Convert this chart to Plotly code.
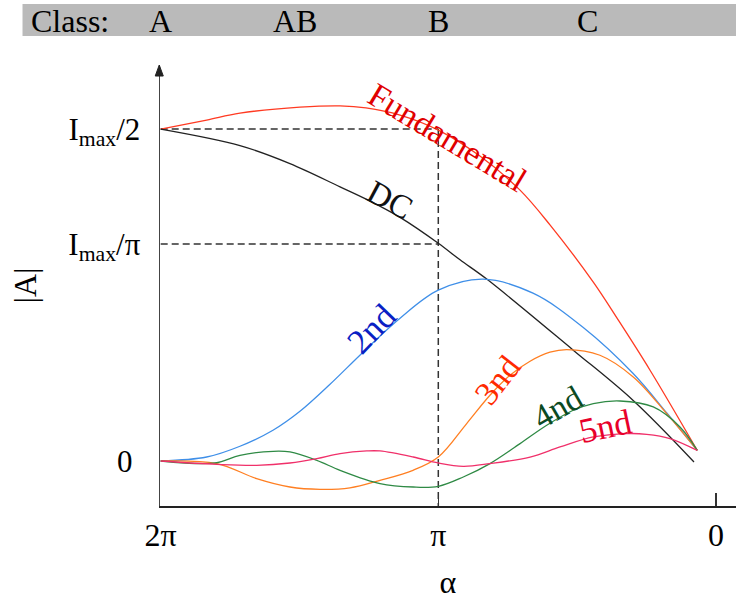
import plotly.graph_objects as go

# x: conduction angle alpha in degrees (2*pi = 360, pi = 180, 0 = 0); y: amplitude as fraction of Imax
alpha_fund = [360, 330.2, 308.6, 269.7, 243.7, 226.9, 204.8, 180, 153, 127, 107.6, 79.5, 64.1, 42.7, 12.1]
fund = [0.500, 0.5136, 0.524, 0.533, 0.535, 0.532, 0.5211, 0.4985, 0.4593, 0.408, 0.3557, 0.2694, 0.2151, 0.1367, 0.016]

alpha_dc = [360, 308.6, 276.2, 243.7, 226.4, 204.8, 180, 165.9, 148.6, 92.5, 53.8, 14.2]
dc = [0.500, 0.4751, 0.448, 0.413, 0.394, 0.367, 0.328, 0.303, 0.274, 0.167, 0.0915, -0.0015]

alpha_h2 = [360, 330.2, 308.6, 287.2, 269.7, 250.2, 228.8, 204.8, 180, 151, 118.6, 86.2, 53.8, 31.7, 12.1]
h2 = [0, 0.006, 0.0222, 0.0463, 0.0749, 0.1156, 0.1639, 0.2151, 0.2573, 0.2739, 0.2528, 0.2015, 0.1322, 0.0719, 0.016]

alpha_h3 = [360, 323.7, 297.8, 276.2, 256.7, 237.3, 217.8, 196.4, 180, 161.6, 146.5, 133.5, 120.5, 107.6, 96.7, 75.2, 53.6, 31.9, 12.1]
h3 = [0, -0.0039, -0.0265, -0.0392, -0.0427, -0.0404, -0.0291, -0.014, 0.006, 0.0564, 0.099, 0.1292, 0.1503, 0.1639, 0.1679, 0.1593, 0.1266, 0.0714, 0.016]

alpha_h4 = [360, 324.8, 308.6, 287, 276.2, 258.8, 243.7, 217.8, 196.2, 180, 163.8, 146.5, 127, 109.7, 92.5, 79.5, 62.2, 40.6, 23.3, 12.1]
h4 = [0, -0.003, 0.0086, 0.0146, 0.0136, 0.001, -0.014, -0.034, -0.0392, -0.0381, -0.0241, -0.0039, 0.0262, 0.0538, 0.0764, 0.0865, 0.0904, 0.0814, 0.0513, 0.016]

alpha_h5 = [360, 323.7, 297.8, 276.2, 258.8, 243.7, 226.4, 217.8, 196.2, 180, 163.8, 146.5, 120.5, 101.1, 79.5, 57.8, 44.9, 29.8, 12.1]
h5 = [0, -0.005, -0.0065, -0.003, 0.0036, 0.0112, 0.0151, 0.0151, 0.006, -0.003, -0.008, -0.0039, 0.006, 0.0211, 0.0362, 0.0413, 0.0402, 0.0338, 0.016]

x_tickvals = [360, 180, 0]
x_ticktext = ["2π", "π", "0"]
y_tickvals = [0, 0.3267, 0.5]
y_ticktext = ["0\u00a0", "I<sub>max</sub>/π", "I<sub>max</sub>/2"]

class_labels = ["A", "AB", "B", "C"]
class_alpha = [360, 273, 180, 83]

PI_ALPHA = 180
IMAX_HALF = 0.5
IMAX_PI = 0.3267

SERIF = "Liberation Serif, Times New Roman, serif"

series = [
    (alpha_fund, fund, "#ff3a22", "Fundamental"),
    (alpha_dc, dc, "#222222", "DC"),
    (alpha_h2, h2, "#3f8fe8", "2nd"),
    (alpha_h3, h3, "#ff7f22", "3nd"),
    (alpha_h4, h4, "#2f8a45", "4nd"),
    (alpha_h5, h5, "#f0306a", "5nd"),
]

fig = go.Figure()
for xs, ys, col, name in series:
    fig.add_trace(go.Scatter(x=xs, y=ys, mode="lines", name=name,
                             line=dict(color=col, width=1.3, shape="spline", smoothing=1.0),
                             hoverinfo="skip"))

y_min, y_max = -0.0678, 0.5965

# dashed reference lines
dash_style = dict(color="#333333", width=1.5, dash="7px,4px")
fig.add_shape(type="line", xref="x", yref="y", x0=360, x1=PI_ALPHA, y0=IMAX_HALF, y1=IMAX_HALF, line=dash_style, layer="below")
fig.add_shape(type="line", xref="x", yref="y", x0=360, x1=PI_ALPHA, y0=IMAX_PI, y1=IMAX_PI, line=dash_style, layer="below")
fig.add_shape(type="line", xref="x", yref="y", x0=PI_ALPHA, x1=PI_ALPHA, y0=IMAX_HALF, y1=y_min, line=dash_style, layer="below")

# class bar
fig.add_shape(type="rect", xref="paper", yref="paper", x0=-0.2387, x1=1.02, y0=1.0658, y1=1.1383,
              fillcolor="#bababa", line=dict(width=0), layer="below")
fig.add_annotation(text="Class:", xref="paper", yref="paper", x=-0.2274, y=1.0998,
                   xanchor="left", yanchor="middle", showarrow=False,
                   font=dict(family=SERIF, size=32, color="black"))
for lab, a in zip(class_labels, class_alpha):
    fig.add_annotation(text=lab, xref="x", yref="paper", x=a, y=1.0998,
                       xanchor="center", yanchor="middle", showarrow=False,
                       font=dict(family=SERIF, size=32, color="black"))

# y-axis arrow head
fig.add_shape(type="path", xref="paper", yref="paper",
              path="M -0.0083,0.975 L -0.0013,1.0 L 0.0057,0.975 Z",
              fillcolor="#222222", line=dict(color="#222222", width=1))

# curve labels
labels = [
    ("Fundamental", 173.7, 0.488, 31, "#e00000", 34),
    ("DC", 211.3, 0.393, 28, "#111111", 33),
    ("2nd", 223, 0.200, -46, "#0a1fc4", 35),
    ("3nd", 141.9, 0.1216, -52, "#ff2a00", 34),
    ("4nd", 103, 0.081, -30, "#0b4a22", 34),
    ("5nd", 71.3, 0.0523, -12, "#e8002a", 35),
]
for txt, x, y, ang, col, sz in labels:
    fig.add_annotation(text=txt, x=x, y=y, xref="x", yref="y", showarrow=False,
                       textangle=ang, font=dict(family=SERIF, size=sz, color=col))

fig.update_layout(
    width=736, height=600,
    margin=dict(l=160, r=0, t=65, b=94),
    plot_bgcolor="white", paper_bgcolor="white",
    showlegend=False,
    font=dict(family=SERIF, color="black"),
    xaxis=dict(range=[360.45, -13.03], showline=True, linecolor="#222222", linewidth=1.5,
               tickmode="array", tickvals=x_tickvals, ticktext=x_ticktext,
               ticks="inside", ticklen=13, tickwidth=1.5, tickcolor="#333333",
               tickfont=dict(family=SERIF, size=32, color="black"),
               showgrid=False, zeroline=False,
               title=dict(text="α", font=dict(family=SERIF, size=32, color="black"), standoff=22)),
    yaxis=dict(range=[y_min, y_max], showline=True, linecolor="#444444", linewidth=1.5,
               tickmode="array", tickvals=y_tickvals, ticktext=y_ticktext,
               ticks="", ticklabelstandoff=12,
               tickfont=dict(family=SERIF, size=31, color="black"),
               showgrid=False, zeroline=False,
               title=dict(text="|A|", font=dict(family=SERIF, size=32, color="black"), standoff=22)),
)

fig.write_html("out.html", config={"displayModeBar": False, "staticPlot": True},
               post_script="document.body.style.margin='0';")
